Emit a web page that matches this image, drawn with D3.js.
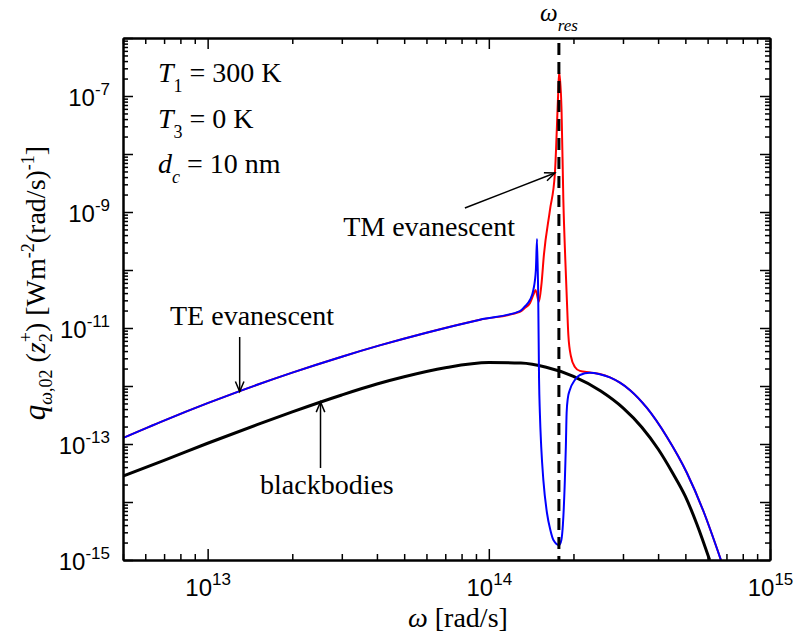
<!DOCTYPE html>
<html><head><meta charset="utf-8">
<script src="https://cdn.jsdelivr.net/npm/d3@7"></script>
<style>body{margin:0;background:#fff} svg{display:block}</style>
</head><body>
<svg id="c" width="796" height="639"></svg>
<script>
// ---- data ----
const omegaBB = [5e12, 7e12, 1e13, 1.5e13, 2e13, 3e13, 4e13, 5e13, 7e13, 1e14, 1.3e14, 1.6e14, 2e14, 2.5e14, 3e14, 3.5e14, 4e14, 4.5e14, 5e14, 5.5e14, 6.1e14];
const qBB     = [2.8e-14, 5.2e-14, 1.03e-13, 2.16e-13, 3.58e-13, 7.0e-13, 1.08e-12, 1.44e-12, 2.06e-12, 2.53e-12, 2.48e-12, 2.11e-12, 1.47e-12, 8.2e-13, 4.2e-13, 1.95e-13, 8.2e-14, 3.2e-14, 1.25e-14, 4.1e-15, 1.0e-15];

const omegaTE = [5e12, 7.03e12, 1e13, 1.3e13, 2e13, 3e13, 4.09e13, 6e13, 9.3e13, 1.29e14, 1.343e14, 1.40e14, 1.44e14, 1.47e14, 1.484e14, 1.499e14, 1.509e14, 1.519e14, 1.536e14, 1.563e14, 1.61e14, 1.655e14, 1.697e14, 1.779e14, 1.811e14, 1.834e14, 1.864e14, 1.879e14, 1.891e14, 1.91e14, 1.941e14, 2.023e14, 2.108e14, 2.288e14, 2.482e14, 2.696e14, 2.926e14, 3.18e14, 3.65e14, 4.3e14, 5.065e14, 5.776e14, 6.69e14];
const qTE     = [1.27e-13, 2.56e-13, 5.06e-13, 8.17e-13, 1.70e-12, 3.20e-12, 5.01e-12, 8.3e-12, 1.39e-11, 1.96e-11, 2.35e-11, 3.04e-11, 4.52e-11, 1.0e-10, 3.42e-10, 3.04e-11, 1.27e-12, 3.42e-13, 8.87e-14, 2.39e-14, 6.46e-15, 3.29e-15, 2.21e-15, 1.81e-15, 2.21e-15, 4.01e-15, 2.39e-14, 8.87e-14, 3.42e-13, 6.2e-13, 8.53e-13, 1.27e-12, 1.55e-12, 1.69e-12, 1.60e-12, 1.41e-12, 1.14e-12, 8.47e-13, 4.18e-13, 1.32e-13, 3.16e-14, 7.28e-15, 1.0e-15];

const omegaTM = [5e12, 7.03e12, 1e13, 1.3e13, 2e13, 3e13, 4.09e13, 6e13, 9.3e13, 1.29e14, 1.343e14, 1.40e14, 1.44e14, 1.466e14, 1.507e14, 1.54e14, 1.57e14, 1.649e14, 1.718e14, 1.765e14, 1.779e14, 1.814e14, 1.841e14, 1.871e14, 1.895e14, 1.918e14, 1.958e14, 2.023e14, 2.108e14, 2.288e14, 2.482e14, 2.696e14, 2.926e14, 3.18e14, 3.65e14, 4.3e14, 5.065e14, 5.776e14, 6.69e14];
const qTM     = [1.27e-13, 2.56e-13, 5.06e-13, 8.17e-13, 1.70e-12, 3.20e-12, 5.01e-12, 8.3e-12, 1.39e-11, 1.91e-11, 2.21e-11, 2.67e-11, 3.71e-11, 4.52e-11, 2.84e-11, 5.9e-11, 1.82e-10, 1.07e-9, 4.65e-9, 1.11e-7, 2.62e-7, 5.74e-8, 1.61e-9, 1.49e-10, 3.04e-11, 7.57e-12, 3.29e-12, 2.13e-12, 1.82e-12, 1.71e-12, 1.61e-12, 1.41e-12, 1.14e-12, 8.47e-13, 4.18e-13, 1.32e-13, 3.16e-14, 7.28e-15, 1.0e-15];

const omegaRes = 1.775e14;
const xDomain = [5e12, 1e15];
const yDomain = [1e-15, 1e-6];
const xLabelTicks = [1e13, 1e14, 1e15];
const yLabelTicks = [1e-15, 1e-13, 1e-11, 1e-9, 1e-7];

// ---- drawing ----
const svg = d3.select("#c");
const L = 123, R = 770, T = 38, B = 560;
const x = d3.scaleLog().domain(xDomain).range([L, R]);
const y = d3.scaleLog().domain(yDomain).range([B, T]);

const sans = "'Liberation Sans', Arial, sans-serif";
const serif = "'Liberation Serif', 'Times New Roman', serif";

function decadeTicks(lo, hi) {
  const maj = [], min = [];
  for (let e = Math.floor(Math.log10(lo)) - 1; e <= Math.ceil(Math.log10(hi)); e++) {
    for (let m = 1; m <= 9; m++) {
      const v = m * Math.pow(10, e);
      if (v < lo * 0.999 || v > hi * 1.001) continue;
      (m === 1 ? maj : min).push(v);
    }
  }
  return {maj, min};
}
const xt = decadeTicks(xDomain[0], xDomain[1]);
const yt = decadeTicks(yDomain[0], yDomain[1]);

svg.append("defs").append("clipPath").attr("id", "clip")
  .append("rect").attr("x", L).attr("y", T).attr("width", R - L).attr("height", B - T);

const plot = svg.append("g").attr("clip-path", "url(#clip)");
const line = (xs, ys) => d3.line().x((d, i) => x(xs[i])).y((d, i) => y(ys[i])).curve(d3.curveMonotoneX)(xs);

plot.append("path").attr("d", line(omegaBB, qBB)).attr("fill", "none").attr("stroke", "#000").attr("stroke-width", 3);
plot.append("path").attr("d", line(omegaTM, qTM)).attr("fill", "none").attr("stroke", "#ff0000").attr("stroke-width", 2);
plot.append("path").attr("d", line(omegaTE, qTE)).attr("fill", "none").attr("stroke", "#0000ff").attr("stroke-width", 2);
plot.append("line").attr("x1", x(omegaRes)).attr("x2", x(omegaRes)).attr("y1", T).attr("y2", B)
  .attr("stroke", "#000").attr("stroke-width", 3).attr("stroke-dasharray", "12,7").attr("stroke-dashoffset", 14);

// axes (ticks inward on all four sides)
function addAxis(axisFn, transform, vals, size) {
  const g = svg.append("g").attr("transform", transform)
    .call(axisFn.tickValues(vals).tickSize(-size).tickSizeOuter(0).tickFormat(""));
  g.selectAll(".tick line").attr("stroke", "#000").attr("stroke-width", 1.5);
  g.select(".domain").attr("stroke", "#000").attr("stroke-width", 2);
  return g;
}
addAxis(d3.axisBottom(x), `translate(0,${B})`, xt.maj, 11);
addAxis(d3.axisBottom(x), `translate(0,${B})`, xt.min, 6);
addAxis(d3.axisTop(x), `translate(0,${T})`, xt.maj, 11);
addAxis(d3.axisTop(x), `translate(0,${T})`, xt.min, 6);
addAxis(d3.axisLeft(y), `translate(${L},0)`, yt.maj, 10);
addAxis(d3.axisLeft(y), `translate(${L},0)`, yt.min, 5);
addAxis(d3.axisRight(y), `translate(${R},0)`, yt.maj, 10);
addAxis(d3.axisRight(y), `translate(${R},0)`, yt.min, 5);

function supLabels(g, rise, supSize) {
  g.select(".domain").remove();
  g.attr("font-family", sans).attr("font-size", 24);
  g.selectAll(".tick text").attr("fill", "#000").each(function(d) {
    const e = Math.round(Math.log10(d));
    const t = d3.select(this); t.text(null);
    t.append("tspan").text("10");
    t.append("tspan").attr("dy", -rise).attr("font-size", supSize).text(String(e));
  });
}
const gxl = svg.append("g").attr("transform", `translate(0,${B})`)
  .call(d3.axisBottom(x).tickValues(xLabelTicks).tickSize(0).tickPadding(19).tickFormat(d => d));
supLabels(gxl, 11, 17);
gxl.selectAll(".tick text").attr("dy", "0.71em");
const gyl = svg.append("g").attr("transform", `translate(${L},0)`)
  .call(d3.axisLeft(y).tickValues(yLabelTicks).tickSize(0).tickPadding(13).tickFormat(d => d));
supLabels(gyl, 11, 17);
gyl.selectAll(".tick text").attr("dy", "0.4em");

// axis titles
const xt1 = svg.append("text").attr("x", 408).attr("y", 627).attr("font-family", serif).attr("font-size", 28).attr("fill", "#000");
xt1.append("tspan").attr("font-style", "italic").text("ω");
xt1.append("tspan").text(" [rad/s]");

const yt1 = svg.append("text").attr("transform", "translate(45,283) rotate(-90)")
  .attr("text-anchor", "middle").attr("font-family", serif).attr("font-size", 28).attr("fill", "#000");
yt1.append("tspan").attr("font-style", "italic").attr("font-size", 31).text("q");
yt1.append("tspan").attr("font-style", "italic").attr("font-size", 18).attr("dy", 7).text("ω");
yt1.append("tspan").attr("font-size", 18).text(",02");
yt1.append("tspan").attr("dy", -7).text(" (");
yt1.append("tspan").attr("font-style", "italic").text("z");
yt1.append("tspan").attr("font-size", 18).attr("dy", 7).text("2");
yt1.append("tspan").attr("font-size", 18).attr("dy", -20).attr("dx", -9).text("+");
yt1.append("tspan").attr("dy", 13).text(") [Wm");
yt1.append("tspan").attr("font-size", 18).attr("dy", -11).text("-2");
yt1.append("tspan").attr("dy", 11).text("(rad/s)");
yt1.append("tspan").attr("font-size", 18).attr("dy", -11).text("-1");
yt1.append("tspan").attr("dy", 11).text("]");

// parameter annotations
function subText(px, py, main, sub, rest) {
  const t = svg.append("text").attr("x", px).attr("y", py).attr("font-family", serif).attr("font-size", 28).attr("fill", "#000");
  t.append("tspan").attr("font-style", "italic").text(main);
  t.append("tspan").attr("font-size", 18).attr("dy", 10).attr("font-style", main === "d" ? "italic" : null).text(sub);
  t.append("tspan").attr("dy", -10).text(rest);
}
subText(158, 82, "T", "1", " = 300 K");
subText(158, 128, "T", "3", " = 0 K");
subText(158, 173, "d", "c", " = 10 nm");

const wr = svg.append("text").attr("x", 540).attr("y", 21).attr("font-family", serif).attr("font-size", 25).attr("fill", "#000");
wr.append("tspan").attr("font-style", "italic").text("ω");
wr.append("tspan").attr("font-style", "italic").attr("font-size", 17).attr("dy", 10).text("res");

const lbl = (px, py, s, anchor) => svg.append("text").attr("x", px).attr("y", py).attr("text-anchor", anchor || "start")
  .attr("font-family", serif).attr("font-size", 28).attr("fill", "#000").text(s);
lbl(515, 236, "TM evanescent", "end");
lbl(170, 325, "TE evanescent");
lbl(260, 494, "blackbodies");

// arrows (anchored in data coordinates)
function arrow(w0, q0, w1, q1) {
  const x0 = x(w0), y0 = y(q0), x1 = x(w1), y1 = y(q1);
  const a = Math.atan2(y1 - y0, x1 - x0), len = 11, hw = 0.4;
  svg.append("line").attr("x1", x0).attr("y1", y0).attr("x2", x1).attr("y2", y1).attr("stroke", "#000").attr("stroke-width", 1.5);
  svg.append("path").attr("d",
    `M${x1 - len * Math.cos(a - hw)},${y1 - len * Math.sin(a - hw)}L${x1},${y1}L${x1 - len * Math.cos(a + hw)},${y1 - len * Math.sin(a + hw)}`)
    .attr("fill", "none").attr("stroke", "#000").attr("stroke-width", 1.5);
}
arrow(8.22e13, 1.17e-9, 1.718e14, 4.7e-9);
arrow(1.3e13, 7.0e-12, 1.3e13, 8.0e-13);
arrow(2.52e13, 3.86e-14, 2.52e13, 5.3e-13);
</script>
</body></html>
